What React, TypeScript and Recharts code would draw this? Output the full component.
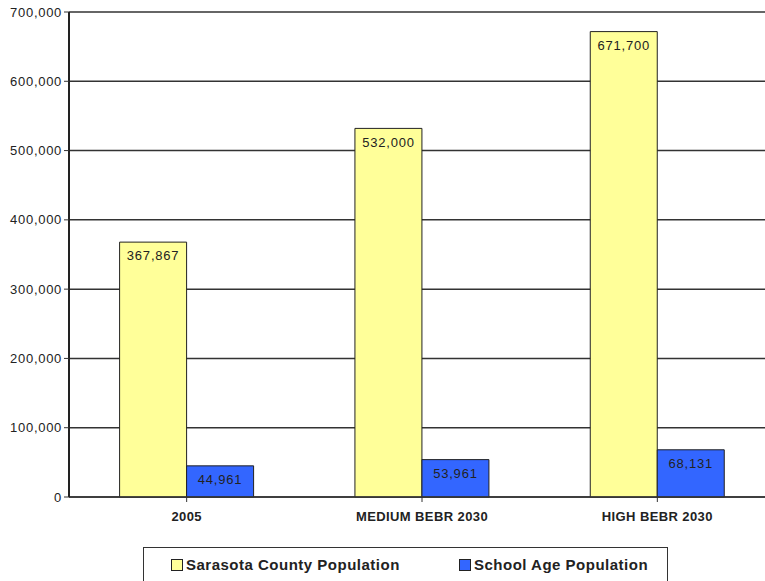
import { Bar, BarChart, CartesianGrid, LabelList, Legend, XAxis, YAxis } from "recharts";

const categories = ["2005", "MEDIUM BEBR 2030", "HIGH BEBR 2030"];
const countyPopulation = [367867, 532000, 671700];
const schoolAgePopulation = [44961, 53961, 68131];
const yTicks = [0, 100000, 200000, 300000, 400000, 500000, 600000, 700000];

const data = categories.map((name, i) => ({
  name,
  county: countyPopulation[i],
  school: schoolAgePopulation[i],
}));

const fmt = (v: number) => v.toLocaleString("en-US");
const FONT = "Arial, 'Liberation Sans', sans-serif";

function LegendBox() {
  const item = (color: string, label: string, width: number) => (
    <div style={{ display: "flex", alignItems: "center", width }}>
      <span
        style={{
          width: 10,
          height: 10,
          background: color,
          border: "1px solid #222",
          marginRight: 3,
        }}
      />
      <span>{label}</span>
    </div>
  );
  return (
    <div
      style={{
        boxSizing: "border-box",
        width: 525,
        height: 40,
        border: "1px solid #333",
        display: "flex",
        alignItems: "flex-start",
        paddingTop: 8,
        paddingLeft: 27,
        fontFamily: FONT,
        fontWeight: "bold",
        fontSize: 15,
        letterSpacing: 0.5,
        color: "#222",
      }}
    >
      {item("#FFFF99", "Sarasota County Population", 288)}
      {item("#3366FF", "School Age Population", 200)}
    </div>
  );
}

export default function App() {
  return (
    <div style={{ position: "absolute", left: 0, top: 0, width: 765, height: 581, background: "#fff", overflow: "hidden" }}>
      <BarChart
        width={775}
        height={581}
        data={data}
        margin={{ top: 12, right: 0, left: 0, bottom: 0 }}
        barCategoryGap="21.5%"
        barGap={0}
      >
        <CartesianGrid vertical={false} stroke="#333" strokeWidth={1.5} />
        <XAxis
          dataKey="name"
          height={44}
          tickLine={{ stroke: "#333" }}
          tickSize={5}
          tickMargin={10}
          axisLine={{ stroke: "#333", strokeWidth: 1.5 }}
          tick={{ fill: "#222", fontSize: 13, fontWeight: "bold", fontFamily: FONT, letterSpacing: 0.4 }}
          interval={0}
        />
        <YAxis
          width={69}
          domain={[0, 700000]}
          ticks={yTicks}
          tickFormatter={fmt}
          axisLine={{ stroke: "#222", strokeWidth: 2 }}
          tickLine={{ stroke: "#333" }}
          tickSize={5}
          tick={{ fill: "#222", fontSize: 13, fontFamily: FONT, letterSpacing: 0.7 }}
        />
        <Legend
          verticalAlign="bottom"
          content={() => <LegendBox />}
          wrapperStyle={{ left: 143, width: 525, height: 40, top: 547 }}
        />
        <Bar dataKey="county" fill="#FFFF99" stroke="#222" strokeWidth={1} isAnimationActive={false}>
          <LabelList
            dataKey="county"
            position="insideTop"
            offset={9}
            formatter={(v: number) => fmt(v)}
            style={{ fill: "#222", fontSize: 13, fontFamily: FONT, letterSpacing: 0.8 }}
          />
        </Bar>
        <Bar dataKey="school" fill="#3366FF" stroke="#222" strokeWidth={1} isAnimationActive={false}>
          <LabelList
            dataKey="school"
            position="insideTop"
            offset={9}
            formatter={(v: number) => fmt(v)}
            style={{ fill: "#222", fontSize: 13, fontFamily: FONT, letterSpacing: 0.8 }}
          />
        </Bar>
      </BarChart>
    </div>
  );
}
